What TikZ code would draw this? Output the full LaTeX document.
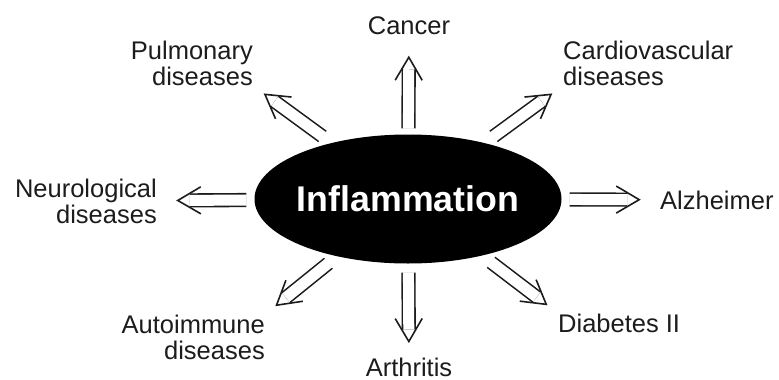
\documentclass[tikz,border=0pt]{standalone}
\usepackage{fontspec}
\setmainfont{Liberation Sans}
\usetikzlibrary{arrows.meta,shapes.geometric}
\definecolor{ink}{HTML}{1C1C1C}
\newcommand{\lblsize}{\fontsize{25.5}{26}\selectfont}
\newcommand{\hubsize}{\fontsize{35.7}{40}\selectfont}
\pgfdeclarearrow{
 name=Chevron,
 setup code={
  \pgfarrowssettipend{.8pt}
  \pgfarrowssetlineend{-12pt}
  \pgfarrowssetbackend{-23pt}
  \pgfarrowsupperhullpoint{-23pt}{13.5pt}
  \pgfarrowsupperhullpoint{.8pt}{0pt}
 },
 drawing code={
  \pgfsetlinewidth{1.6pt}\pgfsetmiterjoin\pgfsetdash{}{0pt}
  \pgfpathmoveto{\pgfqpoint{-23pt}{13.5pt}}
  \pgfpathlineto{\pgfqpoint{0pt}{0pt}}
  \pgfpathlineto{\pgfqpoint{-23pt}{-13.5pt}}
  \pgfusepathqstroke
 }
}
% open end of the double shaft
\pgfdeclarearrow{
 name=OpenTail,
 setup code={
  \pgfarrowssettipend{0pt}
  \pgfarrowssetlineend{0pt}
  \pgfarrowssetbackend{-1pt}
  \pgfarrowsupperhullpoint{-1pt}{5.4pt}
  \pgfarrowsupperhullpoint{0pt}{5.4pt}
 },
 drawing code={
  \pgfsetlinewidth{1.2pt}\pgfsetbuttcap\pgfsetstrokecolor{white}
  \pgfpathmoveto{\pgfqpoint{-.3pt}{5.4pt}}
  \pgfpathlineto{\pgfqpoint{-.3pt}{-5.4pt}}
  \pgfusepathqstroke
 }
}
\tikzset{
 every node/.append style={font=\lblsize,text=ink,inner sep=0pt},
 hub/.style={ellipse,fill=black,minimum width=307pt,minimum height=129pt,font=\hubsize\bfseries,text=white},
 disease/.style={align=center},
 effect/.style={draw=ink,line width=1.6pt,double=white,double distance=11pt,{OpenTail}-{Chevron},shorten <=8pt,shorten >=20pt},
 slant/.style={effect,shorten <=11pt,shorten >=14pt},
}

\begin{document}
\begin{tikzpicture}[x=1pt,y=-1pt]

\useasboundingbox (0,0) rectangle (779,380);
\node[hub] (infl) at (408,199) {\makebox[0pt]{Inflammation}};
\node[disease,anchor=base] (cancer) at (409,34) {Cancer};
\node[disease,anchor=base] (arth) at (409,376) {Arthritis};
\node[disease,anchor=base west] (alz) at (660,209) {Alzheimer};
\node[disease,anchor=base west] (diab) at (558,332) {Diabetes II};
\node[disease,align=right,anchor=north east] (pulm) at (253,40.5) {Pulmonary\\diseases};
\node[disease,align=left,anchor=north west] (cardio) at (563,40.5) {Cardiovascular\\diseases};
\node[disease,align=right,anchor=north east] (neuro) at (157,178.5) {Neurological\\diseases};
\node[disease,align=right,anchor=north east] (auto) at (265,314.5) {Autoimmune\\diseases};
\draw[effect,shorten <=6pt,shorten >=22pt] (infl) -- (cancer); \draw[effect,shorten <=9pt,shorten >=15pt] (infl) -- (arth);
\draw[effect] (infl) -- (alz); \draw[effect] (infl) -- (neuro);
\draw[slant] (infl) -- (pulm.south east); \draw[slant] (infl) -- (cardio.south west);
\draw[slant] (infl) -- (diab.north west); \draw[slant] (infl) -- (auto.north east);

\end{tikzpicture}
\end{document}
